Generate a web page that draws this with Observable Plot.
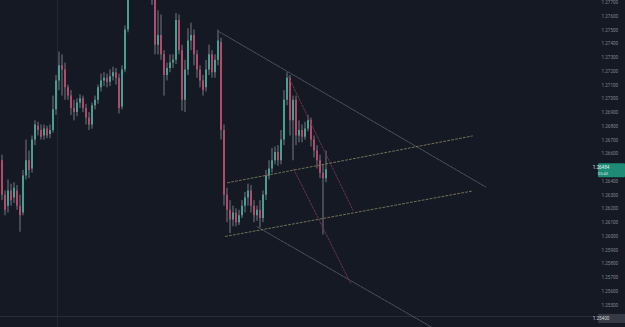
<!DOCTYPE html>
<html>
<head>
<meta charset="utf-8">
<script src="https://cdn.jsdelivr.net/npm/d3@7"></script>
<script src="https://cdn.jsdelivr.net/npm/@observablehq/plot@0.6"></script>
<style>
  html, body { margin: 0; padding: 0; background: #151924; }
  #chart { width: 625px; height: 327px; overflow: hidden; }
</style>
</head>
<body>
<div id="chart"></div>
<script>
// ---- Data ----
const opens = [1.2655,1.2630,1.2622,1.2633,1.2628,1.2633,1.2622,1.2617,1.2644,1.2655,
1.2649,1.2670,1.2680,1.2677,1.2673,1.2678,1.2674,1.2677,1.2692,1.2713,
1.2724,1.2721,1.2708,1.2702,1.2693,1.2690,1.2697,1.2700,1.2693,1.2686,
1.2681,1.2695,1.2699,1.2708,1.2713,1.2715,1.2712,1.2716,1.2719,1.2715,
1.2694,1.2721,1.2750,1.2779,1.2793,1.2804,1.2801,1.2808,1.2799,1.2793,
1.2786,1.2775,1.2739,1.2746,1.2732,1.2717,1.2722,1.2726,1.2728,1.2757,
1.2735,1.2699,1.2721,1.2742,1.2746,1.2732,1.2721,1.2713,1.2708,1.2721,
1.2732,1.2719,1.2728,1.2741,1.2677,1.2630,1.2619,1.2612,1.2617,1.2610,
1.2615,1.2622,1.2628,1.2633,1.2622,1.2615,1.2619,1.2613,1.2630,1.2644,
1.2649,1.2655,1.2661,1.2655,1.2670,1.2699,1.2715,1.2684,1.2699,1.2673,
1.2677,1.2672,1.2678,1.2684,1.2670,1.2662,1.2655,1.2646,1.2642];
const highs = [1.2659,1.2633,1.2641,1.2638,1.2639,1.2637,1.2630,1.2648,1.2670,1.2662,
1.2673,1.2684,1.2683,1.2681,1.2681,1.2680,1.2681,1.2702,1.2717,1.2734,
1.2732,1.2726,1.2710,1.2706,1.2699,1.2700,1.2703,1.2702,1.2696,1.2690,
1.2697,1.2702,1.2710,1.2718,1.2719,1.2718,1.2721,1.2723,1.2722,1.2718,
1.2724,1.2753,1.2786,1.2801,1.2812,1.2815,1.2817,1.2812,1.2804,1.2797,
1.2790,1.2779,1.2764,1.2761,1.2735,1.2726,1.2732,1.2732,1.2762,1.2761,
1.2739,1.2728,1.2751,1.2755,1.2750,1.2735,1.2724,1.2717,1.2728,1.2739,
1.2735,1.2732,1.2750,1.2744,1.2681,1.2635,1.2626,1.2622,1.2620,1.2619,
1.2626,1.2632,1.2638,1.2637,1.2626,1.2622,1.2626,1.2633,1.2648,1.2655,
1.2664,1.2665,1.2666,1.2677,1.2706,1.2719,1.2717,1.2702,1.2702,1.2684,
1.2681,1.2683,1.2688,1.2686,1.2673,1.2666,1.2659,1.2652,1.2662];
const lows = [1.2626,1.2615,1.2617,1.2622,1.2624,1.2619,1.2603,1.2615,1.2641,1.2642,
1.2646,1.2666,1.2673,1.2670,1.2670,1.2671,1.2671,1.2675,1.2688,1.2706,
1.2702,1.2699,1.2699,1.2688,1.2684,1.2687,1.2693,1.2690,1.2681,1.2677,
1.2678,1.2692,1.2696,1.2705,1.2709,1.2708,1.2709,1.2713,1.2710,1.2689,
1.2692,1.2719,1.2748,1.2775,1.2790,1.2797,1.2797,1.2793,1.2786,1.2779,
1.2768,1.2732,1.2732,1.2728,1.2702,1.2713,1.2719,1.2722,1.2725,1.2732,
1.2691,1.2690,1.2717,1.2735,1.2724,1.2715,1.2708,1.2702,1.2705,1.2717,
1.2715,1.2715,1.2724,1.2670,1.2622,1.2610,1.2602,1.2607,1.2607,1.2608,
1.2613,1.2617,1.2622,1.2617,1.2610,1.2611,1.2606,1.2610,1.2626,1.2641,
1.2646,1.2652,1.2651,1.2652,1.2666,1.2695,1.2673,1.2655,1.2666,1.2668,
1.2668,1.2670,1.2676,1.2665,1.2657,1.2649,1.2642,1.2601,1.2639];
const closes = [1.2630,1.2619,1.2633,1.2626,1.2635,1.2622,1.2615,1.2644,1.2655,1.2648,
1.2670,1.2681,1.2677,1.2672,1.2678,1.2673,1.2677,1.2692,1.2713,1.2724,
1.2721,1.2708,1.2702,1.2693,1.2690,1.2697,1.2700,1.2693,1.2686,1.2681,
1.2695,1.2699,1.2708,1.2713,1.2715,1.2712,1.2716,1.2719,1.2715,1.2693,
1.2721,1.2750,1.2779,1.2793,1.2804,1.2801,1.2808,1.2799,1.2793,1.2786,
1.2775,1.2739,1.2746,1.2732,1.2717,1.2722,1.2726,1.2728,1.2757,1.2735,
1.2699,1.2721,1.2742,1.2746,1.2732,1.2721,1.2713,1.2706,1.2721,1.2732,
1.2719,1.2728,1.2742,1.2677,1.2630,1.2619,1.2612,1.2617,1.2610,1.2615,
1.2622,1.2628,1.2633,1.2622,1.2615,1.2619,1.2613,1.2630,1.2644,1.2649,
1.2655,1.2661,1.2655,1.2670,1.2699,1.2715,1.2684,1.2699,1.2673,1.2677,
1.2672,1.2678,1.2684,1.2670,1.2662,1.2655,1.2646,1.2642,1.26484];

// Drawn trend lines: [bar index, price] anchors
const fanUpper   = [[72.2, 1.2749], [161.2, 1.2636]];
const fanLower   = [[85.0, 1.2607], [144.0, 1.2533]];
const dropLineA  = [[95.5, 1.2716], [117.0, 1.2619]];
const dropLineB  = [[97.2, 1.2649], [116.2, 1.2566]];
const channelTop = [[75.2, 1.2639], [156.8, 1.2673]];
const channelBot = [[74.5, 1.2600], [156.8, 1.2633]];

// Price axis tick labels
const priceTicks = [1.277,1.276,1.275,1.274,1.273,1.272,1.271,1.270,1.269,1.268,1.267,1.266,
  1.264,1.263,1.262,1.261,1.260,1.259,1.258,1.257,1.256,1.255];
const lastPriceLabel = "1.26484";
const countdownLabel = "05:43";
const crosshairPrice = 1.254;
const crosshairLabel = "1.25400";

// ---- Build ----
const candles = closes.map((c, i) => ({i, open: opens[i], high: highs[i], low: lows[i], close: c}));
const seg = (pts) => pts.map(([x, p]) => ({x, p}));

const upColor = "#4a9d92", downColor = "#b04c68", wickColor = "#80858f";

const chart = Plot.plot({
  width: 625, height: 327,
  marginLeft: 0, marginRight: 28, marginTop: 0, marginBottom: 0,
  style: {background: "#151924", fontFamily: "Roboto, 'Liberation Sans', sans-serif"},
  x: {domain: [-0.5, 198.5], axis: null},
  y: {domain: [1.253377, 1.27715]},
  marks: [
    Plot.ruleX([18.5], {stroke: "#222633", strokeWidth: 1}),
    Plot.ruleY([1.25418], {stroke: "#2a2e3a", strokeWidth: 1}),
    Plot.ruleX(candles, {x: "i", y1: "low", y2: "high", stroke: wickColor, strokeWidth: 0.9, clip: true}),
    Plot.ruleX(candles, {x: "i", y1: "open", y2: "close",
      stroke: d => d.close >= d.open ? upColor : downColor, strokeWidth: 2, clip: true}),
    Plot.line(seg(fanUpper), {x: "x", y: "p", stroke: "#5a5f6c", strokeWidth: 0.8, strokeDasharray: "3,1", clip: true}),
    Plot.line(seg(fanLower), {x: "x", y: "p", stroke: "#5a5f6c", strokeWidth: 0.8, strokeDasharray: "3,1", clip: true}),
    Plot.line(seg(dropLineA), {x: "x", y: "p", stroke: "#6a3447", strokeWidth: 1, strokeDasharray: "2,1.5", clip: true}),
    Plot.line(seg(dropLineB), {x: "x", y: "p", stroke: "#6a3447", strokeWidth: 1, strokeDasharray: "2,1.5", clip: true}),
    Plot.line(seg(channelTop), {x: "x", y: "p", stroke: "#7d7b5c", strokeWidth: 0.9, strokeDasharray: "2,2", clip: true}),
    Plot.line(seg(channelBot), {x: "x", y: "p", stroke: "#7d7b5c", strokeWidth: 0.9, strokeDasharray: "2,2", clip: true}),
    Plot.axisY({anchor: "right", ticks: priceTicks, tickFormat: d => d.toFixed(5),
      tickSize: 0, tickPadding: 4, fontSize: 4.6, fill: "#80848e", label: null})
  ]
});
document.getElementById("chart").appendChild(chart);

// Price labels on the axis, positioned with the chart's own y scale
const ys = chart.scale("y");
const svg = d3.select(chart);
const yLast = ys.apply(closes[closes.length - 1]);
const g = svg.append("g").attr("font-family", "Roboto, 'Liberation Sans', sans-serif");
g.append("rect").attr("x", 598).attr("y", yLast - 6).attr("width", 27).attr("height", 14)
  .attr("fill", "#1c8c77").attr("rx", 1);
g.append("text").attr("x", 601).attr("y", yLast - 0.5).attr("font-size", 4.6).attr("fill", "#e0f0ec")
  .text(lastPriceLabel);
g.append("text").attr("x", 603).attr("y", yLast + 5.5).attr("font-size", 4.2).attr("fill", "#c8e6df")
  .text(countdownLabel);
const yCross = ys.apply(crosshairPrice);
g.append("rect").attr("x", 598).attr("y", yCross - 4.5).attr("width", 27).attr("height", 9)
  .attr("fill", "#363a46");
g.append("text").attr("x", 601).attr("y", yCross + 1.8).attr("font-size", 4.6).attr("fill", "#d0d2d8")
  .text(crosshairLabel);
</script>
</body>
</html>
